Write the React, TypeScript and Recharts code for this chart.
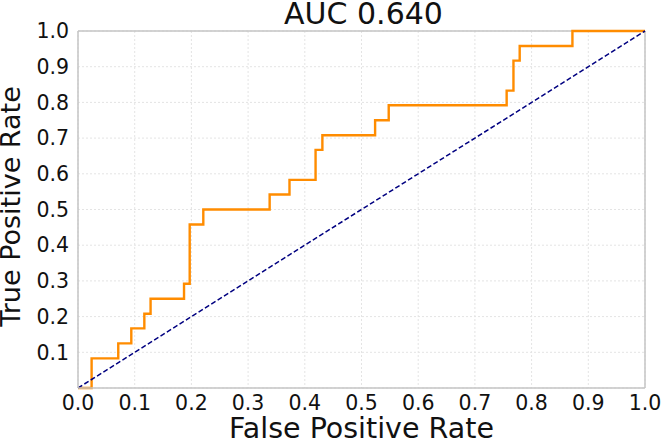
import { LineChart, Line, XAxis, YAxis, CartesianGrid, ReferenceLine } from "recharts";

// ROC curve corner points
const fpr = [
    0, 0.024, 0.024, 0.071, 0.071, 0.094, 0.094, 0.117, 0.117, 0.128, 0.128, 0.187, 0.187,
    0.197, 0.197, 0.221, 0.221, 0.338, 0.338, 0.373, 0.373, 0.419, 0.419, 0.431, 0.431,
    0.524, 0.524, 0.548, 0.548, 0.756, 0.756, 0.768, 0.768, 0.779, 0.779, 0.872, 0.872, 1.0,
];
const tpr = [
    0, 0, 0.083, 0.083, 0.125, 0.125, 0.167, 0.167, 0.208, 0.208, 0.25, 0.25, 0.292,
    0.292, 0.458, 0.458, 0.5, 0.5, 0.542, 0.542, 0.583, 0.583, 0.667, 0.667, 0.708,
    0.708, 0.75, 0.75, 0.792, 0.792, 0.833, 0.833, 0.917, 0.917, 0.958, 0.958, 1.0, 1.0,
];
const chanceFpr = [0, 1];
const chanceTpr = [0, 1];
const xTicks = [0, 0.1, 0.2, 0.3, 0.4, 0.5, 0.6, 0.7, 0.8, 0.9, 1.0];
const yTicks = [0.1, 0.2, 0.3, 0.4, 0.5, 0.6, 0.7, 0.8, 0.9, 1.0];
const title = "AUC 0.640";

const rocData = fpr.map((x, i) => ({ fpr: x, tpr: tpr[i] }));
const chanceData = chanceFpr.map((x, i) => ({ fpr: x, tpr: chanceTpr[i] }));

const FONT = "'DejaVu Sans', sans-serif";
const FRAME = "#c4c4c4";

export default function App() {
    return (
        <div style={{ position: "absolute", left: 0, top: 0, width: 662, height: 444, background: "#fff" }}>
            <LineChart width={662} height={444} data={rocData} margin={{ top: 31, right: 17, left: 0, bottom: 0 }}>
                <CartesianGrid stroke="#e4e4e4" strokeDasharray="2 2" />
                <XAxis
                    type="number"
                    dataKey="fpr"
                    domain={[0, 1]}
                    ticks={xTicks}
                    tickFormatter={(v) => v.toFixed(1)}
                    tick={{ fontSize: 20.5, fill: "#111", fontFamily: FONT }}
                    tickLine={false}
                    tickMargin={1}
                    axisLine={{ stroke: FRAME, strokeWidth: 1.5 }}
                    height={56}
                    label={{
                        content: ({ viewBox }: any) => (
                            <text x={viewBox.x + viewBox.width / 2} y={viewBox.y + 50} textAnchor="middle" fontSize={28.5} fontFamily={FONT} fill="#111">
                                False Positive Rate
                            </text>
                        ),
                    }}
                />
                <YAxis
                    type="number"
                    dataKey="tpr"
                    domain={[0, 1]}
                    ticks={yTicks}
                    tickFormatter={(v) => v.toFixed(1)}
                    tick={{ fontSize: 20.5, fill: "#111", fontFamily: FONT }}
                    tickLine={false}
                    tickMargin={3}
                    axisLine={{ stroke: FRAME, strokeWidth: 1.5 }}
                    width={78}
                    label={{
                        content: ({ viewBox }: any) => {
                            const cx = viewBox.x + 20;
                            const cy = viewBox.y + viewBox.height / 2 - 3;
                            return (
                                <text x={cx} y={cy} transform={`rotate(-90, ${cx}, ${cy})`} textAnchor="middle" fontSize={27} fontFamily={FONT} fill="#111">
                                    True Positive Rate
                                </text>
                            );
                        },
                    }}
                />
                <ReferenceLine x={1} stroke={FRAME} strokeWidth={1.5} />
                <ReferenceLine
                    y={1}
                    stroke={FRAME}
                    strokeWidth={1.5}
                    label={{
                        content: ({ viewBox }: any) => (
                            <text x={viewBox.x + viewBox.width / 2 + 2} y={viewBox.y - 7.5} textAnchor="middle" fontSize={30} fontFamily={FONT} fill="#111">
                                {title}
                            </text>
                        ),
                    }}
                />
                <Line data={rocData} dataKey="tpr" type="linear" stroke="#ff8c00" strokeWidth={2.4} dot={false} activeDot={false} isAnimationActive={false} />
                <Line data={chanceData} dataKey="tpr" type="linear" stroke="#000080" strokeWidth={1.5} strokeDasharray="5 2.5" dot={false} activeDot={false} isAnimationActive={false} />
            </LineChart>
        </div>
    );
}
